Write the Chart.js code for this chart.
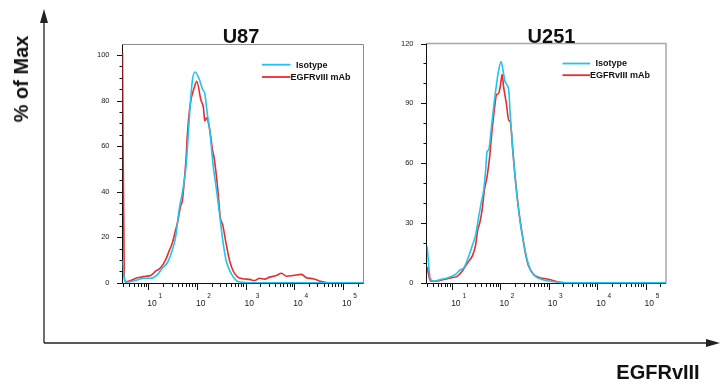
<!DOCTYPE html>
<html><head><meta charset="utf-8">
<script src="https://cdn.jsdelivr.net/npm/chart.js@4.4.1/dist/chart.umd.min.js"></script>
<style>
html,body{margin:0;padding:0;background:#fff;}
#wrap{position:relative;width:720px;height:385px;overflow:hidden;font-family:"Liberation Sans",Arial,sans-serif;}
canvas{position:absolute;left:0;top:0;}
svg{position:absolute;left:0;top:0;}
.lab{position:absolute;font-weight:bold;font-size:20px;color:#111;white-space:nowrap;line-height:1;}
#ylab{left:21px;top:79px;transform:translate(-50%,-50%) rotate(-90deg);}
#xlab{left:658px;top:372px;transform:translate(-50%,-50%);}
</style></head><body>
<div id="wrap">
<svg width="720" height="385">
  <line x1="44" y1="343" x2="44" y2="20" stroke="#222" stroke-width="1.3"/>
  <polygon points="44,9 40,23 48,23" fill="#222"/>
  <line x1="44" y1="343" x2="708" y2="343" stroke="#222" stroke-width="1.3"/>
  <polygon points="720,343 706,339 706,347" fill="#222"/>
</svg>
<canvas id="c1" width="720" height="385"></canvas>
<canvas id="c2" width="720" height="385"></canvas>
<div class="lab" id="ylab">% of Max</div>
<div class="lab" id="xlab">EGFRvIII</div>
</div>
<script>
// ---------------- data ----------------
const panels = ['U87', 'U251'];
const seriesNames = ['Isotype', 'EGFRvIII mAb'];
const xTickExponents = [1, 2, 3, 4, 5];
const u87YTicks = [0, 20, 40, 60, 80, 100];
const u251YTicks = [0, 30, 60, 90, 120];

// U87 – Isotype (fluorescence intensity, % of max)
const u87IsoX = [2.95, 3.16, 3.39, 4.32, 5.89, 8.13, 11.2, 15.3, 19.5, 24.5, 31.3, 36.6, 43.0, 50.1, 58.9, 63.1, 72.4, 80.7, 91.8, 111, 130, 145, 165, 184, 214, 248, 291, 339, 398, 507, 646, 871, 1585, 263000];
const u87IsoY = [10, 3, 0.3, 0.5, 1.2, 2, 2, 3.5, 6.5, 8.7, 14.5, 20.3, 32, 39.5, 50, 58, 77.5, 89, 92.5, 89.5, 85, 83, 73.5, 67, 52, 42, 30.4, 18.7, 9.8, 4, 1, 0.2, 0, 0];

// U87 – EGFRvIII mAb
const u87MabX = [2.95, 3.2, 3.39, 4.32, 5.93, 7.52, 8.79, 11.2, 14.1, 17.9, 22.8, 26.7, 31.3, 36.6, 39.8, 46.3, 50.1, 54.5, 60.3, 63.1, 72.4, 89.9, 99.1, 120, 136, 145, 158, 178, 209, 229, 269, 301, 339, 398, 468, 550, 692, 879, 1202, 1531, 1950, 2455, 3126, 4266, 5445, 6918, 9441, 14125, 17783, 24547, 33884, 50119, 263000];
const u87MabY = [101, 3, 0.5, 1, 2.2, 2.6, 2.9, 3.2, 5.1, 6.6, 10.2, 13.9, 17.6, 23.4, 26.4, 33.8, 36, 44, 56, 64, 78, 86.3, 88.5, 80.4, 76.8, 71, 72.4, 68.7, 58.4, 54, 40.7, 29, 25.3, 17.2, 9.8, 5.4, 2.5, 1.8, 1.5, 1.0, 2.0, 1.6, 2.5, 3.2, 4.2, 2.9, 3.2, 3.7, 2.2, 1.8, 0.7, 0, 0];

// U251 – Isotype
const u251IsoX = [3.04, 3.55, 4.17, 5.75, 7.89, 11.7, 14.8, 17.4, 22.0, 27.2, 30.2, 35.5, 39.8, 45.0, 49.4, 52.8, 57.0, 64.0, 72.4, 85.1, 91.8, 103, 113, 122, 137, 148, 160, 174, 194, 220, 257, 302, 355, 417, 525, 724, 1072, 1738, 3162, 263000];
const u251IsoY = [18.3, 2, 0.8, 1.7, 2.5, 4.2, 6.6, 7.5, 13.3, 20, 23.3, 33.3, 40, 46.6, 56.6, 65.8, 66.6, 76.6, 88.3, 101.6, 106.6, 111, 106.6, 101.6, 99.1, 96.6, 83.3, 71.6, 56.6, 43.3, 30, 20, 11.6, 6.6, 3.3, 1.7, 0.8, 0.3, 0, 0];

// U251 – EGFRvIII mAb
const u251MabX = [3.04, 3.55, 4.52, 6.70, 9.23, 12.7, 16.1, 18.8, 22.0, 25.9, 30.2, 33.9, 37.2, 41.7, 46.5, 52.8, 59.8, 67.0, 75.9, 82.2, 91.8, 100, 108, 116, 132, 148, 160, 179, 204, 238, 279, 327, 383, 485, 667, 912, 1164, 1479, 1995, 263000];
const u251MabY = [8, 1, 0.8, 1.7, 2.5, 3.3, 5.8, 8.3, 10.8, 13.3, 18.3, 26.6, 30, 36.6, 46.6, 53.3, 63.3, 76.6, 88.3, 94.1, 95, 99.1, 104.5, 98.3, 90, 81.6, 80.8, 66.6, 51.6, 36.6, 25, 15, 8.3, 4.2, 2.5, 2, 1.3, 0.6, 0, 0];

const seriesColors = ['#22C3EE', '#EC2B2B'];
const FONT = '"Liberation Sans", Arial, sans-serif';

function pts(xs, ys) { return xs.map((v, i) => ({ x: v, y: ys[i] })); }

const panelPlugin = {
  id: 'panel',
  beforeDatasetsDraw(chart, args, o) {
    const { ctx, chartArea: a, scales: { x, y } } = chart;
    ctx.save();
    // frame (top / right)
    ctx.strokeStyle = o.frameColor; ctx.lineWidth = o.frameWidth;
    ctx.beginPath(); ctx.moveTo(a.left, a.top); ctx.lineTo(a.right, a.top); ctx.lineTo(a.right, a.bottom); ctx.stroke();
    // axes
    ctx.strokeStyle = '#111'; ctx.lineWidth = 1;
    ctx.beginPath(); ctx.moveTo(a.left, a.top); ctx.lineTo(a.left, a.bottom); ctx.lineTo(a.right, a.bottom); ctx.stroke();
    // x log ticks
    ctx.beginPath();
    for (let n = 0; n <= 5; n++) {
      for (let m = 1; m <= 9; m++) {
        const v = m * Math.pow(10, n);
        if (v < x.min || v > x.max) continue;
        const px = Math.round(x.getPixelForValue(v)) + 0.5;
        const len = m === 1 ? 6.5 : 3.5;
        ctx.moveTo(px, a.bottom); ctx.lineTo(px, a.bottom + len);
      }
    }
    ctx.stroke();
    // y ticks
    ctx.beginPath();
    for (let v = 0; v <= y.max + 1e-6; v += o.yMinor) {
      const py = Math.round(y.getPixelForValue(v)) + 0.5;
      const len = o.yMajor.includes(v) ? 5.5 : 3;
      ctx.moveTo(a.left - len, py); ctx.lineTo(a.left, py);
    }
    ctx.stroke();
    // x labels 10^n
    ctx.fillStyle = '#222';
    ctx.textBaseline = 'alphabetic'; ctx.textAlign = 'left';
    xTickExponents.forEach(e => {
      const px = x.getPixelForValue(Math.pow(10, e));
      ctx.font = '8.5px ' + FONT;
      ctx.fillText('10', px - 1, a.bottom + 22);
      const w = ctx.measureText('10').width;
      ctx.font = '6.5px ' + FONT;
      ctx.fillText(String(e), px - 1 + w + 1.8, a.bottom + 14);
    });
    ctx.restore();
  },
  afterDraw(chart, args, o) {
    const { ctx } = chart;
    ctx.save();
    // title
    ctx.fillStyle = '#111';
    ctx.font = 'bold 20px ' + FONT;
    ctx.textAlign = 'center'; ctx.textBaseline = 'middle';
    ctx.fillText(o.title, o.titleX, o.titleY);
    // legend
    ctx.font = 'bold 9px ' + FONT;
    ctx.textAlign = 'left';
    chart.data.datasets.forEach((ds, i) => {
      const ly = o.legY + i * o.legGap;
      ctx.strokeStyle = ds.borderColor; ctx.lineWidth = 1.8;
      ctx.beginPath(); ctx.moveTo(o.legX, ly); ctx.lineTo(o.legX + o.legLen, ly); ctx.stroke();
      ctx.fillStyle = '#111';
      ctx.fillText(ds.label, o.legX + o.legLen + (i === 0 ? 5.5 : 0), ly + 0.5);
    });
    ctx.restore();
  }
};

function makeChart(id, title, series, yTicks, yMinor, yMax, pad, extra) {
  return new Chart(document.getElementById(id), {
    type: 'line',
    data: {
      datasets: series.map((s, i) => ({
        label: seriesNames[i],
        data: s,
        borderColor: seriesColors[i],
        backgroundColor: seriesColors[i],
        borderWidth: 1.6,
        pointRadius: 0,
        fill: false,
        cubicInterpolationMode: 'monotone',
        order: i === 0 ? 0 : 1
      }))
    },
    options: {
      responsive: false,
      animation: false,
      events: [],
      layout: { padding: pad },
      plugins: {
        legend: { display: false },
        tooltip: { enabled: false },
        title: { display: false },
        panel: Object.assign({ title, yMinor, yMajor: yTicks }, extra)
      },
      scales: {
        x: {
          type: 'logarithmic', min: 2.95, max: 265000,
          ticks: { display: false },
          grid: { display: false, drawTicks: false },
          border: { display: false },
          afterFit: s => { s.height = 25; }
        },
        y: {
          type: 'linear', min: -0.3, max: yMax,
          afterBuildTicks: s => { s.ticks = yTicks.map(v => ({ value: v })); },
          ticks: { font: { size: 7.5, family: FONT }, color: '#222', padding: 13 },
          grid: { display: false, drawTicks: false },
          border: { display: false },
          afterFit: s => { s.width = 30; }
        }
      }
    },
    plugins: [panelPlugin]
  });
}

makeChart('c1', panels[0], [pts(u87IsoX, u87IsoY), pts(u87MabX, u87MabY)], u87YTicks, 5, 104.6,
  { left: 92.5, right: 356.5, top: 44.5, bottom: 76.5 },
  { frameColor: '#8c8c8c', frameWidth: 1, titleX: 241, titleY: 37, legX: 262, legY: 64.7, legGap: 12.3, legLen: 28.5 });

makeChart('c2', panels[1], [pts(u251IsoX, u251IsoY), pts(u251MabX, u251MabY)], u251YTicks, 10, 120,
  { left: 396.5, right: 54, top: 43.5, bottom: 76.5 },
  { frameColor: '#a8a8a8', frameWidth: 1.5, titleX: 551.5, titleY: 37, legX: 562.5, legY: 63.5, legGap: 11.7, legLen: 27.5 });
</script>
</body></html>
